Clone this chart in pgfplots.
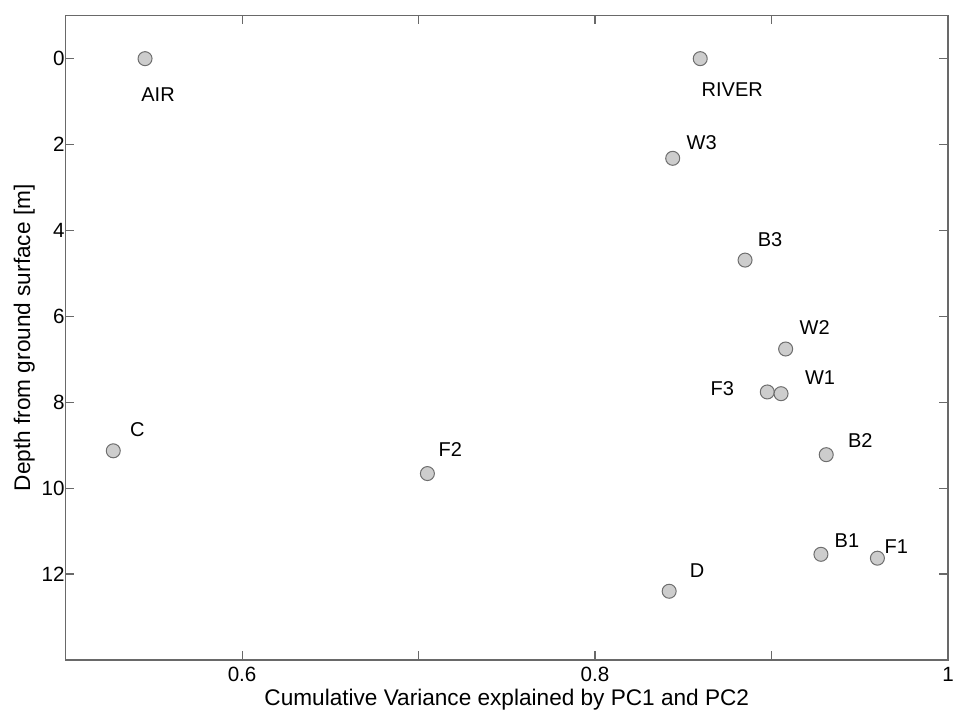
\documentclass[border=0pt]{standalone}
\usepackage{fontspec}
\setmainfont{Liberation Sans}
\usepackage{pgfplots}
\usepackage{pgfplotstable}
\pgfplotsset{compat=1.18}

\definecolor{axgray}{RGB}{105,105,105}
\definecolor{markfill}{RGB}{205,205,205}
\definecolor{markedge}{RGB}{110,110,110}

% x: cumulative variance, y: depth [m], dx/dy: label offset in pt
\pgfplotstableread{
x      y     label  dx     dy
0.545  0.00  AIR    6.5   -18
0.8596 0.00  RIVER  16    -15.5
0.844  2.32  W3     14.5   8
0.885  4.69  B3     12.5   10
0.908  6.76  W2     14.5   10.5
0.8976 7.76  F3    -22.5   1.5
0.9054 7.80  W1     19.5   8
0.931  9.22  B2     17     7
0.527  9.13  C      12     10.5
0.705  9.66  F2     11.5   12
0.842  12.40 D      14     10.5
0.928  11.54 B1     13     7
0.960  11.63 F1     9.5    6
}\pcdata

\begin{document}
\begin{tikzpicture}
  \begin{axis}[
    scale only axis,
    width=441pt,
    height=322pt,
    xmin=0.5, xmax=1,
    ymin=-1, ymax=14,
    y dir=reverse,
    xtick={0.5,0.6,...,1.01},
    xticklabels={,0.6,,0.8,,1},
    ytick={0,2,...,12},
    tick align=inside,
    major tick length=4.3pt,
    axis line style={axgray, line width=0.7pt},
    every tick/.style={axgray, line width=0.6pt},
    tick label style={font=\fontsize{10.3}{12}\selectfont},
    yticklabel style={xshift=3pt},
    /pgf/number format/assume math mode=true,
    xlabel={Cumulative Variance explained by PC1 and PC2},
    ylabel={Depth from ground surface [m]},
    label style={font=\fontsize{11.3}{13}\selectfont},
    xlabel style={yshift=3pt},
    ylabel style={yshift=-3.5pt},
    clip=false,
    ]
    \addplot[
      only marks,
      mark=*,
      mark size=3.5pt,
      mark options={fill=markfill, draw=markedge, line width=0.5pt},
      point meta=explicit symbolic,
      visualization depends on={\thisrow{dx} \as \dx},
      visualization depends on={\thisrow{dy} \as \dy},
      nodes near coords,
      every node near coord/.append style={
        anchor=center, inner sep=0pt, text=black,
        font=\fontsize{10}{12}\selectfont,
        xshift=\dx pt, yshift=\dy pt},
    ] table[x=x, y=y, meta=label] {\pcdata};
    \coordinate (bl) at (rel axis cs:0,0);
    \coordinate (tr) at (rel axis cs:1,1);
  \end{axis}
  \pgfresetboundingbox
  \path[use as bounding box] ([xshift=-32.8pt,yshift=-27.5pt]bl) rectangle ([xshift=4pt,yshift=7.85pt]tr);
\end{tikzpicture}
\end{document}
